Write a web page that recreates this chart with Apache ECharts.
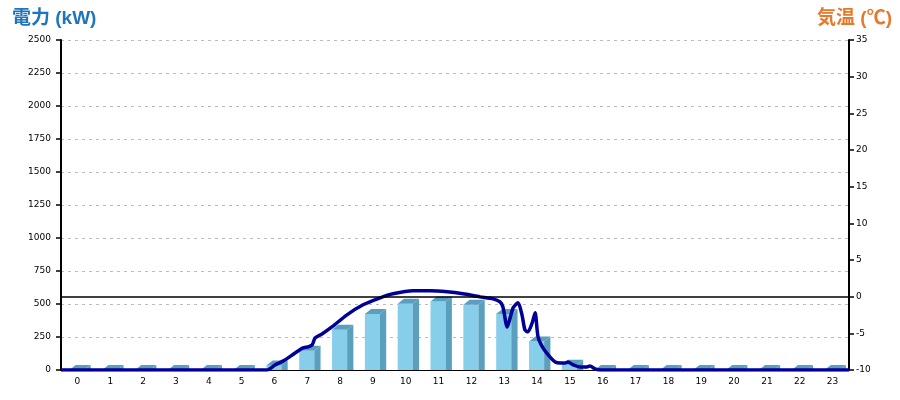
<!DOCTYPE html>
<html><head><meta charset="utf-8">
<script src="https://cdn.jsdelivr.net/npm/echarts@6/dist/echarts.min.js"></script>
<style>html,body{margin:0;padding:0;background:#fff}#c{width:900px;height:400px}</style>
</head><body><div id="c"></div>
<script>
const hours = ['0','1','2','3','4','5','6','7','8','9','10','11','12','13','14','15','16','17','18','19','20','21','22','23'];
const hourlyPower = [0,0,0,0,0,0,35,145,304,425,501,518,494,425,215,40,0,0,0,0,0,0,0,0];
const lineTimes = [0,6.27,6.52,6.82,7.13,7.37,7.52,7.65,7.74,7.95,8.25,8.71,9.2,9.72,10.11,10.72,11.24,11.76,12.24,12.76,13.16,13.37,13.46,13.59,13.68,13.77,13.92,14.04,14.13,14.22,14.35,14.44,14.53,14.68,14.89,15.05,15.2,15.35,15.44,15.6,15.81,16.02,16.11,16.27,16.42,24];
const linePower = [0,0,38,76,129,167,175,190,243,273,326,418,494,547,577,600,600,592,577,554,539,516,478,326,395,471,509,418,304,289,357,433,251,167,99,61,53,53,61,38,23,23,30,8,0,0];
const powerTicks = {min:0,max:2500,interval:250};
const tempTicks = {min:-10,max:35,interval:5};
const tempRefLine = 0;

const chart = echarts.init(document.getElementById('c'));
const lab = {color:'#000',fontFamily:'DejaVu Sans',fontSize:9};
const titleFont = 'Liberation Sans, Noto Sans CJK JP, sans-serif';
chart.setOption({
  animation:false,
  backgroundColor:'#fff',
  title:[
    {text:'電力 (kW)',left:7,top:4,textStyle:{color:'#1E74BD',fontSize:19,fontWeight:'bold',fontFamily:titleFont}},
    {text:'気温 (℃)',right:3,top:4,textStyle:{color:'#E8782A',fontSize:19,fontWeight:'bold',fontFamily:titleFont}}
  ],
  grid:{left:61,right:51,top:40,bottom:30,containLabel:false},
  xAxis:[
    {type:'category',data:hours,boundaryGap:true,
     axisLine:{lineStyle:{color:'#000',width:1}},axisTick:{show:false},
     axisLabel:Object.assign({margin:7},lab),splitLine:{show:false}},
    {type:'value',min:0,max:24,show:false}
  ],
  yAxis:[
    {type:'value',min:powerTicks.min,max:powerTicks.max,interval:powerTicks.interval,
     axisLine:{show:true,lineStyle:{color:'#000',width:2}},
     axisTick:{show:true,length:5,lineStyle:{color:'#000',width:1.5}},
     axisLabel:Object.assign({margin:10,formatter:v=>String(v)},lab),
     splitLine:{show:true,lineStyle:{color:'#bbb',type:[3,4],width:1}}},
    {type:'value',min:tempTicks.min,max:tempTicks.max,interval:tempTicks.interval,
     axisLine:{show:true,lineStyle:{color:'#000',width:2}},
     axisTick:{show:true,length:5,lineStyle:{color:'#000',width:1.5}},
     axisLabel:Object.assign({margin:7,formatter:v=>String(v)},lab),
     splitLine:{show:false}}
  ],
  series:[
    {type:'custom',name:'電力量',xAxisIndex:0,yAxisIndex:0,z:2,
     data:hourlyPower.map((v,i)=>[i,v]),
     renderItem:function(params,api){
       const band=api.size([1,0])[0];
       const c=api.coord([api.value(0),api.value(1)]);
       const b=api.coord([api.value(0),0]);
       const w=band*0.46, dx=band*0.19, dy=5;
       const x0=c[0]-w/2-0.5, x1=x0+w, top=c[1], bot=b[1];
       return {type:'group',children:[
         {type:'rect',shape:{x:x0,y:top,width:w,height:bot-top},style:{fill:'#87CEEB'}},
         {type:'polygon',shape:{points:[[x1,top],[x1+dx,top-dy],[x1+dx,bot],[x1,bot]]},style:{fill:'#5A9FBD'}},
         {type:'polygon',shape:{points:[[x0,top],[x0+dx,top-dy],[x1+dx,top-dy],[x1,top]]},style:{fill:'#5A9FBD'}}
       ]};
     }},
    {type:'line',name:'気温',xAxisIndex:1,yAxisIndex:1,data:[],symbol:'none',
     markLine:{silent:true,symbol:'none',label:{show:false},lineStyle:{color:'#000',width:1.5,type:'solid'},data:[{yAxis:tempRefLine}]}},
    {type:'line',name:'電力',xAxisIndex:1,yAxisIndex:0,z:4,symbol:'none',smooth:0.25,
     data:lineTimes.map((t,i)=>[t,linePower[i]]),
     lineStyle:{color:'#000099',width:3.5}}
  ]
});
</script></body></html>
